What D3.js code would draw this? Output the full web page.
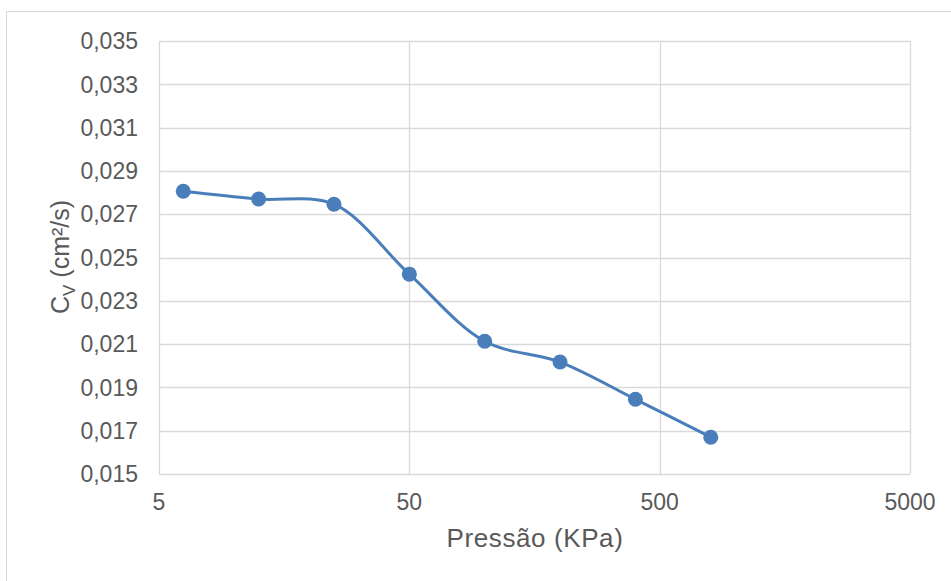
<!DOCTYPE html>
<html>
<head>
<meta charset="utf-8">
<script src="https://cdn.jsdelivr.net/npm/d3@7"></script>
<style>
  body { margin: 0; background: #fff; }
  text { font-family: "Liberation Sans", Arial, sans-serif; }
</style>
</head>
<body>
<svg id="chart" width="951" height="581"></svg>
<script>
// pressure steps (kPa) and coefficient of consolidation (cm²/s)
const pressure = [6.25, 12.5, 25, 50, 100, 200, 400, 800];
const cv = [0.02806, 0.02770, 0.02746, 0.02423, 0.02113, 0.02017, 0.01845, 0.01670];
const xTicks = [5, 50, 500, 5000];
const yTicks = [0.015, 0.017, 0.019, 0.021, 0.023, 0.025, 0.027, 0.029, 0.031, 0.033, 0.035];

const svg = d3.select("#chart");
const margin = {left: 159, top: 41, right: 41, bottom: 107};
const W = 951, H = 581;

// outer chart frame
svg.append("rect")
    .attr("x", 6.5).attr("y", 11.5)
    .attr("width", 960).attr("height", 600)
    .attr("fill", "none")
    .attr("stroke", "#d9d9d9");

const x = d3.scaleLog()
    .domain([5, 5000])
    .range([margin.left, W - margin.right]);
const y = d3.scaleLinear()
    .domain([0.015, 0.035])
    .range([H - margin.bottom, margin.top]);

const fmt = v => d3.format(".3f")(v).replace(".", ",");

// gridlines
svg.append("g")
    .selectAll("line.h")
    .data(yTicks)
    .join("line")
    .attr("x1", x(5)).attr("x2", x(5000))
    .attr("y1", d => Math.round(y(d)) + 0.5)
    .attr("y2", d => Math.round(y(d)) + 0.5)
    .attr("stroke", "#d9d9d9")
    .attr("stroke-width", 1.3);

svg.append("g")
    .selectAll("line.v")
    .data(xTicks)
    .join("line")
    .attr("x1", d => Math.round(x(d)) + 0.5)
    .attr("x2", d => Math.round(x(d)) + 0.5)
    .attr("y1", y(0.015)).attr("y2", y(0.035))
    .attr("stroke", "#d9d9d9")
    .attr("stroke-width", 1.3);

// tick labels
svg.append("g")
    .selectAll("text")
    .data(yTicks)
    .join("text")
    .attr("x", 138)
    .attr("y", d => y(d))
    .attr("dy", "0.36em")
    .attr("text-anchor", "end")
    .attr("font-size", 23)
    .attr("fill", "#595959")
    .text(fmt);

svg.append("g")
    .selectAll("text")
    .data(xTicks)
    .join("text")
    .attr("x", d => x(d))
    .attr("y", 510)
    .attr("text-anchor", "middle")
    .attr("font-size", 23)
    .attr("fill", "#595959")
    .text(d => d);

// axis titles
svg.append("text")
    .attr("x", 535)
    .attr("y", 547)
    .attr("text-anchor", "middle")
    .attr("font-size", 26)
    .attr("letter-spacing", 0.6)
    .attr("fill", "#595959")
    .text("Pressão (KPa)");

const yt = svg.append("text")
    .attr("transform", `translate(69,257) rotate(-90)`)
    .attr("text-anchor", "middle")
    .attr("font-size", 25)
    .attr("fill", "#595959");
yt.append("tspan").text("C");
yt.append("tspan").attr("font-size", 17).attr("dy", 6).text("V");
yt.append("tspan").attr("dy", -6).text(" (cm²/s)");

// smoothed line + markers
const pts = pressure.map((p, i) => [p, cv[i]]);
const line = d3.line()
    .x(d => x(d[0]))
    .y(d => y(d[1]))
    .curve(d3.curveCatmullRom.alpha(0.5));

svg.append("path")
    .datum(pts)
    .attr("d", line)
    .attr("fill", "none")
    .attr("stroke", "#4a7ebb")
    .attr("stroke-width", 3);

svg.append("g")
    .selectAll("circle")
    .data(pts)
    .join("circle")
    .attr("cx", d => x(d[0]))
    .attr("cy", d => y(d[1]))
    .attr("r", 7.5)
    .attr("fill", "#4a7ebb");
</script>
</body>
</html>
